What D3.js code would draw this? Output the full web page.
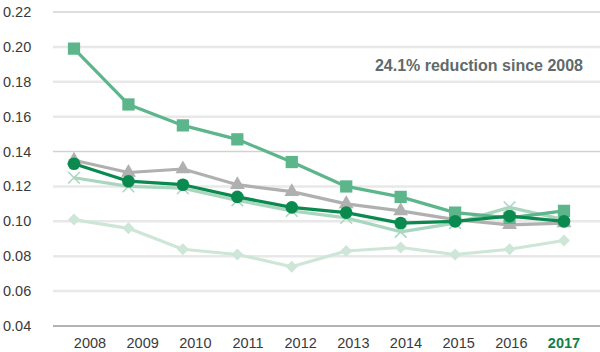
<!DOCTYPE html>
<html lang="en">
<head>
  <meta charset="UTF-8">
  <title>reduction since 2008</title>
  <style>
    body{ margin: 0; background: #fff; }
    svg{ display: block; font-family: "Liberation Sans", Arial, sans-serif; }
  </style>
</head>
<body>
  <script src="https://cdn.jsdelivr.net/npm/d3@7/dist/d3.min.js"></script>
  <script>
    const w = 600, h = 352;

    const years = ['2008','2009','2010','2011','2012','2013','2014','2015','2016','2017'];
    const yTicks = [0.04, 0.06, 0.08, 0.10, 0.12, 0.14, 0.16, 0.18, 0.20, 0.22];

    const squareVals   = [0.199, 0.167, 0.155, 0.147, 0.134, 0.120, 0.114, 0.105, 0.102, 0.106];
    const triangleVals = [0.135, 0.128, 0.130, 0.121, 0.117, 0.110, 0.106, 0.101, 0.098, 0.099];
    const circleVals   = [0.133, 0.123, 0.121, 0.114, 0.108, 0.105, 0.099, 0.100, 0.103, 0.100];
    const crossVals    = [0.125, 0.120, 0.119, 0.112, 0.106, 0.102, 0.094, 0.099, 0.108, 0.101];
    const diamondVals  = [0.101, 0.096, 0.084, 0.081, 0.074, 0.083, 0.085, 0.081, 0.084, 0.089];

    const note = '24.1% reduction since 2008';

    // back to front; diamond = square turned 45deg
    const series = [
      { vals: diamondVals,  color: '#cde6d7', sym: d3.symbolSquare,   size: 72,  rot: 45 },
      { vals: crossVals,    color: '#aad6bf', sym: d3.symbolX,        size: 90,  rot: 0 },
      { vals: triangleVals, color: '#b0b0b0', sym: d3.symbolTriangle, size: 95,  rot: 0 },
      { vals: squareVals,   color: '#5db58c', sym: d3.symbolSquare,   size: 150, rot: 0 },
      { vals: circleVals,   color: '#0b8a4f', sym: d3.symbolCircle,   size: 125, rot: 0 }
    ];

    const x = d3.scalePoint().domain(years).range([74, 564]);
    const xLab = d3.scalePoint().domain(years).range([90, 564]);
    const y = d3.scaleLinear().domain([0.04, 0.22]).range([326, 12]);

    const svg = d3.select('body').append('svg').attr('width', w).attr('height', h);

    // gridlines
    svg.append('g').selectAll('line').data(yTicks).join('line')
      .attr('x1', 53).attr('x2', w)
      .attr('y1', d => y(d)).attr('y2', d => y(d))
      .attr('stroke', d => d === 0.04 ? '#9a9a9a' : (d === 0.22 || d === 0.14 ? '#d2d2d2' : '#e8e8e8'))
      .attr('stroke-width', d => d === 0.04 ? 1.5 : (d === 0.22 || d === 0.14 ? 1.5 : 2.5));

    // y labels
    svg.append('g').selectAll('text').data(yTicks).join('text')
      .attr('x', 3).attr('y', d => y(d) + 5)
      .attr('font-size', 14.5).attr('fill', '#3a3a3a')
      .text(d => d3.format('.2f')(d));

    // x labels
    svg.append('g').selectAll('text').data(years).join('text')
      .attr('x', d => xLab(d)).attr('y', 348)
      .attr('text-anchor', 'middle')
      .attr('font-size', 14.5)
      .attr('font-weight', d => d === '2017' ? 'bold' : 'normal')
      .attr('fill', d => d === '2017' ? '#13804a' : '#3a3a3a')
      .text(d => d);

    const line = d3.line().x((d, i) => x(years[i])).y(d => y(d));

    series.forEach(s => {
      const g = svg.append('g');
      g.append('path').datum(s.vals)
        .attr('d', line).attr('fill', 'none')
        .attr('stroke', s.color).attr('stroke-width', 3.2)
        .attr('stroke-linejoin', 'round');
      g.selectAll('path.m').data(s.vals).join('path')
        .attr('class', 'm')
        .attr('transform', (d, i) => `translate(${x(years[i])},${y(d)}) rotate(${s.rot})`)
        .attr('d', d3.symbol().type(s.sym).size(s.size))
        .attr('fill', s.color)
        .attr('stroke', s.sym === d3.symbolX ? s.color : 'none')
        .attr('stroke-width', 1.5);
    });

    svg.append('text')
      .attr('x', 583).attr('y', 71)
      .attr('text-anchor', 'end')
      .attr('font-size', 16).attr('font-weight', 'bold')
      .attr('fill', '#5f6a6a')
      .text(note);
  </script>
</body>
</html>
